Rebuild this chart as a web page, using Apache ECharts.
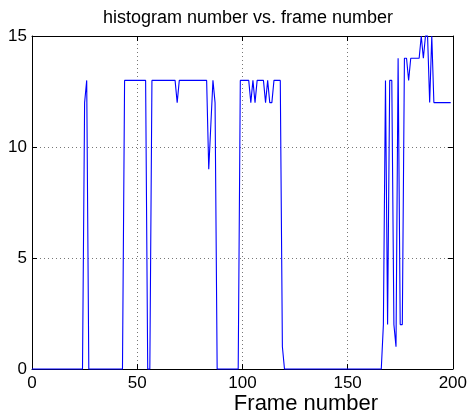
<!DOCTYPE html>
<html>
<head>
<meta charset="utf-8">
<script src="https://cdn.jsdelivr.net/npm/echarts@6/dist/echarts.min.js"></script>
<style>
  html, body { margin: 0; padding: 0; background: #fff; }
  #main { width: 470px; height: 417px; }
</style>
</head>
<body>
<div id="main"></div>
<script>
// histogram number per frame, frames 0..199
const histNumber = [
  0, 0, 0, 0, 0, 0, 0, 0, 0, 0,
  0, 0, 0, 0, 0, 0, 0, 0, 0, 0,
  0, 0, 0, 0, 0, 12, 13, 0, 0, 0,
  0, 0, 0, 0, 0, 0, 0, 0, 0, 0,
  0, 0, 0, 0, 13, 13, 13, 13, 13, 13,
  13, 13, 13, 13, 13, 0, 0, 13, 13, 13,
  13, 13, 13, 13, 13, 13, 13, 13, 13, 12,
  13, 13, 13, 13, 13, 13, 13, 13, 13, 13,
  13, 13, 13, 13, 9, 11, 13, 12, 0, 0,
  0, 0, 0, 0, 0, 0, 0, 0, 0, 13,
  13, 13, 13, 13, 12, 13, 12, 13, 13, 13,
  13, 12, 13, 12, 12, 13, 13, 13, 13, 1,
  0, 0, 0, 0, 0, 0, 0, 0, 0, 0,
  0, 0, 0, 0, 0, 0, 0, 0, 0, 0,
  0, 0, 0, 0, 0, 0, 0, 0, 0, 0,
  0, 0, 0, 0, 0, 0, 0, 0, 0, 0,
  0, 0, 0, 0, 0, 0, 0, 2, 13, 2,
  13, 13, 2, 1, 14, 2, 2, 14, 14, 13,
  14, 14, 14, 14, 14, 15, 14, 15, 15, 12,
  15, 12, 12, 12, 12, 12, 12, 12, 12, 12
];
const xTicks = [0, 50, 100, 150, 200];
const yTicks = [0, 5, 10, 15];

const font = 'Liberation Sans, Arial, Helvetica, sans-serif';
const chart = echarts.init(document.getElementById('main'));

const baseAxis = {
  axisLine: { show: true, onZero: false, lineStyle: { color: '#000', width: 1 } },
  axisTick: { show: true, inside: true, length: 5, lineStyle: { color: '#000' } },
  splitLine: { show: false }
};

const option = {
  animation: false,
  backgroundColor: '#fff',
  title: {
    text: 'histogram number vs. frame number',
    left: 243,
    textAlign: 'center',
    top: 4,
    textStyle: { fontFamily: font, fontSize: 18, fontWeight: 'normal', color: '#000' }
  },
  grid: { left: 32, right: 16, top: 36, bottom: 48 },
  xAxis: [
    Object.assign({}, baseAxis, {
      type: 'value', position: 'bottom',
      min: xTicks[0], max: xTicks[xTicks.length - 1], interval: 50,
      axisLabel: { fontFamily: font, fontSize: 17, color: '#000', margin: 6 },
      splitLine: { show: true, lineStyle: { color: '#777', type: [1, 3], width: 1 } }
    }),
    Object.assign({}, baseAxis, {
      type: 'value', position: 'top',
      min: xTicks[0], max: xTicks[xTicks.length - 1], interval: 50,
      axisLabel: { show: false }
    })
  ],
  yAxis: [
    Object.assign({}, baseAxis, {
      type: 'value', position: 'left',
      min: yTicks[0], max: yTicks[yTicks.length - 1], interval: 5,
      axisLabel: { fontFamily: font, fontSize: 17, color: '#000', margin: 5 },
      splitLine: { show: true, lineStyle: { color: '#777', type: [1, 3], width: 1 } }
    }),
    Object.assign({}, baseAxis, {
      type: 'value', position: 'right',
      min: yTicks[0], max: yTicks[yTicks.length - 1], interval: 5,
      axisLabel: { show: false }
    })
  ],
  graphic: [{
    type: 'text',
    x: 306,
    y: 404,
    style: {
      text: 'Frame number', font: '22px ' + font, fill: '#000',
      align: 'center', verticalAlign: 'middle'
    }
  }],
  series: [{
    type: 'line',
    xAxisIndex: 0,
    yAxisIndex: 0,
    data: histNumber.map((v, i) => [i, v]),
    showSymbol: false,
    lineStyle: { color: '#0000ff', width: 1.1 },
    clip: false
  }]
};

chart.setOption(option);
</script>
</body>
</html>
